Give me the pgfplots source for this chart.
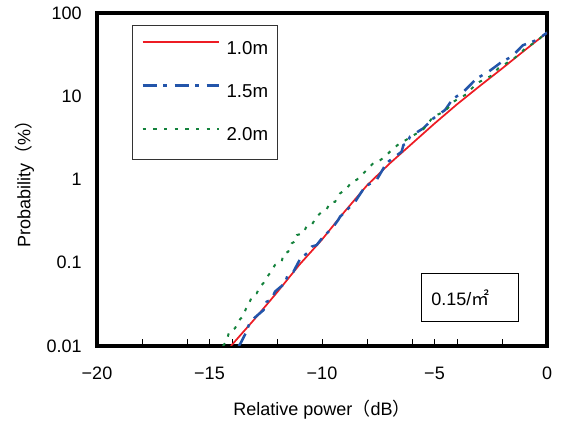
\documentclass[border=0pt]{standalone}
\usepackage{fontspec}
\setmainfont{Liberation Sans}
\newfontfamily\cjk{Noto Sans CJK JP}
\usepackage{pgfplots}
\pgfplotsset{compat=1.18}

\definecolor{cred}{RGB}{237,28,36}
\definecolor{cblue}{RGB}{35,85,170}
\definecolor{cgreen}{RGB}{20,130,60}

\begin{document}
\begin{tikzpicture}
\begin{axis}[
    scale only axis,
    width=337.5pt, height=249.75pt,
    xmin=-20, xmax=0,
    ymode=log, ymin=0.01, ymax=100,
    xtick={-20,-15,-10,-5,0},
    xticklabels={−20,−15,−10,−5,0},
    minor xtick={-18,-16,-14,-12,-8,-6,-4,-2},
    ytick={0.01,0.1,1,10,100},
    yticklabels={0.01,0.1,1,10,100},
    yminorticks=false,
    xtick pos=left,
    ytick style={draw=none},
    tick align=inside,
    major tick length=5pt, minor tick length=5pt,
    every tick/.style={black, line width=0.6pt},
    axis line style={line width=2.4pt},
    tick label style={font=\fontsize{13.5}{15}\selectfont},
    xticklabel style={yshift=-12pt},
    yticklabel style={xshift=-8pt},
    label style={font=\fontsize{13.5}{15}\selectfont},
    xlabel={Relative power{\cjk（}dB{\cjk）}},
    ylabel={Probability{\cjk（}\%{\cjk）}},
    xlabel style={at={(axis description cs:0.5,-0.192)}, anchor=center},
    ylabel style={at={(axis description cs:-0.161,0.5)}, anchor=center},
    legend style={at={(axis description cs:0.0778,0.964)}, anchor=north west,
        draw=black!80, line width=0.6pt, inner xsep=6.75pt, inner ysep=12pt,
        row sep=21pt, column sep=5pt,
        font=\fontsize{14}{15}\selectfont,
        nodes={inner sep=0pt}},
    legend cell align=left,
    legend image code/.code={\draw[#1] (0pt,5pt) -- (57pt,5pt);},
]
% 1.0 m
\addplot[cred, line width=1.3pt] coordinates {
    (-14.05,0.01) (-13,0.021) (-12,0.044) (-11,0.095) (-10,0.19)
    (-9,0.41) (-8,0.85) (-7,1.55) (-6,2.7) (-5,4.7) (-4,8.0)
    (-3,13.2) (-2,21.5) (-1,35.5) (0,58)
};
\addlegendentry{1.0m}
% 1.5 m
\addplot[cblue, line width=1.9pt, dash pattern=on 10.5pt off 5pt on 2.5pt off 6pt] coordinates {
    (-13.7,0.010) (-13.6,0.011) (-13.35,0.015) (-13.2,0.0196) (-12.6,0.027)
    (-12.46,0.034) (-12.24,0.036) (-12.09,0.045) (-11.64,0.057) (-11.5,0.075)
    (-11.27,0.078) (-10.98,0.11) (-10.6,0.135) (-10.46,0.156) (-10.24,0.163)
    (-10.0,0.197) (-9.5,0.27) (-9.27,0.33) (-9.2,0.357) (-9.05,0.39)
    (-8.53,0.54) (-8.09,0.82) (-7.57,0.99) (-7.27,1.36) (-7.2,1.49)
    (-7.05,1.64) (-6.46,2.16) (-6.38,2.6) (-6.23,2.72) (-6.09,3.27)
    (-5.5,4.12) (-5.27,4.73) (-5.12,4.95) (-5.05,5.43) (-4.53,6.84)
    (-4.2,9.2) (-3.7,11.4) (-3.12,16.4) (-2.6,19.7) (-2.0,26)
    (-1.57,29.9) (-1.07,41) (-0.44,47.5) (0,58)
};
\addlegendentry{1.5m}
% 2.0 m
\addplot[cgreen, line width=1.5pt, dash pattern=on 2.5pt off 5.5pt] coordinates {
    (-14.4,0.01) (-14.24,0.0115) (-14.12,0.015) (-13.87,0.0163) (-13.64,0.021)
    (-13.52,0.0225) (-13.38,0.028) (-13.27,0.031) (-13.12,0.039) (-12.9,0.043)
    (-12.76,0.0515) (-12.6,0.057) (-12.38,0.071) (-12.31,0.075) (-12.09,0.094)
    (-11.79,0.103) (-11.72,0.127) (-11.5,0.136) (-11.35,0.171) (-11.2,0.18)
    (-11.12,0.215) (-10.83,0.226) (-10.68,0.277) (-10.46,0.284) (-10.24,0.357)
    (-10.09,0.39) (-9.94,0.42) (-9.79,0.44) (-9.64,0.53) (-9.42,0.54)
    (-9.2,0.68) (-8.9,0.78) (-8.68,0.94) (-8.46,0.99) (-8.24,1.13)
    (-8.01,1.3) (-7.72,1.57) (-7.5,1.64) (-7.2,1.88) (-6.98,2.16)
    (-6.6,2.65) (-6.46,2.77) (-6.09,3.2) (-5.5,4.0) (-5.05,5.7)
    (-4.53,6.6) (-4.16,8.6) (-3.6,10.5) (-3.2,13.6) (-2.98,15)
    (-2.5,17.5) (-2.16,21.7) (-1.94,23.7) (-1.5,28) (-1.12,34)
    (-0.98,37.6) (-0.5,45) (-0.16,54) (0,60)
};
\addlegendentry{2.0m}
\node[draw=black, line width=1.1pt, minimum height=36pt, text width=58pt,
      inner xsep=7.5pt, align=left, font=\fontsize{13.5}{15}\selectfont]
      at (axis cs:-3.42,0.038) {0.15/{\cjk ㎡}};
\end{axis}
\path (current axis.south west) ++(-72.75pt,-57.75pt);
\path (current axis.north east) ++(12pt,9.75pt);
\end{tikzpicture}
\end{document}
